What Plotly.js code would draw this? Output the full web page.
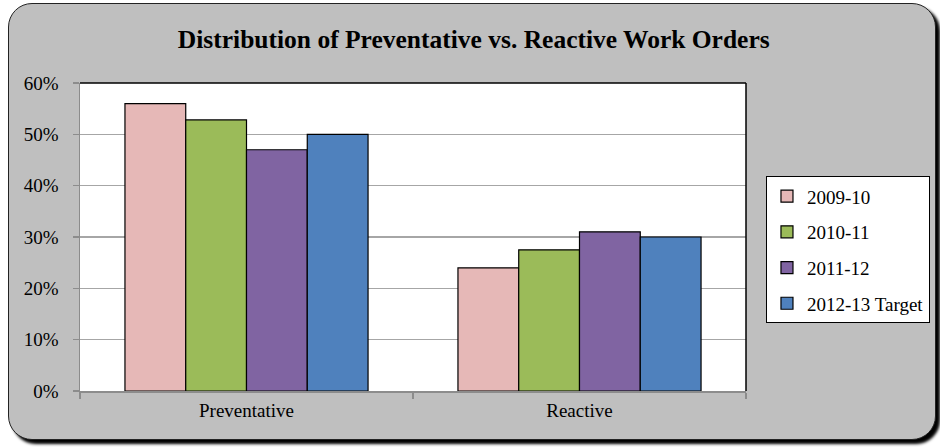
<!DOCTYPE html>
<html>
<head>
<meta charset="utf-8">
<script src="https://cdn.plot.ly/plotly-3.0.1.min.js"></script>
<style>
  html, body { margin: 0; padding: 0; background: #ffffff; }
  #wrap { position: relative; width: 940px; height: 448px; overflow: hidden; }
  #frame {
    position: absolute; left: 8px; top: 3px; width: 926px; height: 435px;
    background: #bfbfbf; border: 1.5px solid #222; border-radius: 24px;
    box-shadow: 4px 4px 3px #000;
  }
  #chart { position: absolute; left: 0; top: 0; width: 940px; height: 448px; }
</style>
</head>
<body>
<div id="wrap">
  <div id="frame"></div>
  <div id="chart"></div>
</div>
<script>
const categories = ["Preventative", "Reactive"];
const seriesNames = ["2009-10", "2010-11", "2011-12", "2012-13 Target"];
const v2009_10 = [0.56, 0.24];
const v2010_11 = [0.528, 0.275];
const v2011_12 = [0.47, 0.31];
const v2012_13_target = [0.50, 0.30];
const seriesValues = [v2009_10, v2010_11, v2011_12, v2012_13_target];
const colors = ["#E6B8B7", "#9BBB59", "#8064A2", "#4F81BD"];

const font = "'Liberation Serif', 'Times New Roman', serif";

const traces = seriesNames.map((name, i) => ({
  type: "bar",
  name: name,
  x: categories,
  y: seriesValues[i],
  legendgroup: "g" + i,
  marker: { color: colors[i], line: { color: "#000000", width: 1.2 } },
  hoverinfo: "x+y+name"
}));

const layout = {
  width: 940, height: 448,
  paper_bgcolor: "rgba(0,0,0,0)",
  plot_bgcolor: "#ffffff",
  margin: { l: 80, r: 194, t: 83, b: 57, autoexpand: false },
  barmode: "group",
  bargap: 0.27,
  bargroupgap: 0,
  showlegend: true,
  title: {
    text: "<b>Distribution of Preventative vs. Reactive Work Orders</b>",
    font: { family: font, size: 25.5, color: "#000000" },
    x: 0.504, xanchor: "center", y: 0.912, yanchor: "middle"
  },
  font: { family: font, size: 19, color: "#000000" },
  xaxis: {
    type: "category",
    showline: true, linecolor: "#8c8c8c", linewidth: 1.5,
    ticks: "outside", tickson: "boundaries", ticklen: 6, tickcolor: "#8c8c8c", tickwidth: 1.5,
    showgrid: false,
    tickfont: { family: font, size: 19, color: "#000000" },
    ticklabelstandoff: 2
  },
  yaxis: {
    range: [0, 0.6], dtick: 0.1, tickformat: ".0%",
    showline: true, linecolor: "#8c8c8c", linewidth: 1.5,
    ticks: "outside", ticklen: 6, tickcolor: "#8c8c8c", tickwidth: 1.5,
    showgrid: true, gridcolor: "#a6a6a6", gridwidth: 1.2,
    zeroline: false,
    tickfont: { family: font, size: 19, color: "#000000" },
    ticklabelstandoff: 10
  },
  legend: {
    x: 1.030, xanchor: "left", y: 0.697, yanchor: "top",
    bgcolor: "#ffffff", bordercolor: "#000000", borderwidth: 1,
    font: { family: font, size: 19, color: "#000000" },
    tracegroupgap: 8,
    itemwidth: 30
  },
  shapes: [
    { type: "line", xref: "paper", yref: "paper", x0: 0, x1: 1, y0: 1, y1: 1, line: { color: "#000000", width: 1.5 } },
    { type: "line", xref: "paper", yref: "paper", x0: 1, x1: 1, y0: 0, y1: 1, line: { color: "#000000", width: 1.5 } }
  ]
};

Plotly.newPlot("chart", traces, layout, { displayModeBar: false, staticPlot: true });
</script>
</body>
</html>
